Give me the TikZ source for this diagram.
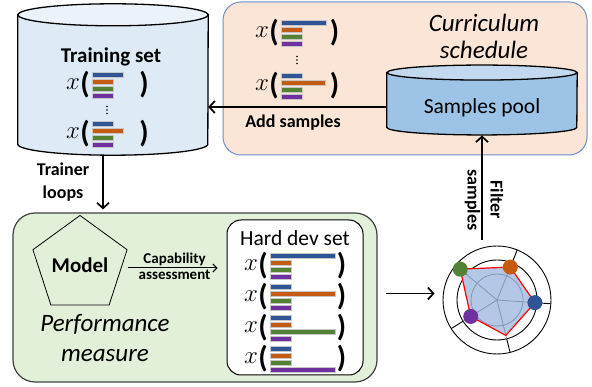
\documentclass[tikz,border=0pt]{standalone}
\usepackage{fontspec}
\setmainfont{Carlito}
\usetikzlibrary{shapes.geometric,arrows.meta,positioning}

\definecolor{trainfill}{HTML}{DEEBF7}
\definecolor{traintop}{HTML}{EBF2FA}
\definecolor{poolfill}{HTML}{9DC3E6}
\definecolor{pooltop}{HTML}{C3D9EF}
\definecolor{currfill}{HTML}{FBE5D6}
\definecolor{curredge}{HTML}{6F8FC8}
\definecolor{perffill}{HTML}{E2F0D9}
\definecolor{bar1}{HTML}{2F5597}
\definecolor{bar2}{HTML}{C55A11}
\definecolor{bar3}{HTML}{548235}
\definecolor{bar4}{HTML}{7030A0}
\definecolor{radarfill}{HTML}{B4C7E7}
\definecolor{spoke}{HTML}{8497B0}

\tikzset{
  arr/.style={line width=1.7pt, -{Straight Barb[length=5.5pt,width=12pt]}},
  smallarr/.style={line width=1pt, -{Straight Barb[length=4pt,width=8pt]}},
  currbox/.style={draw=curredge, line width=1pt, fill=currfill, rounded corners=18pt, inner sep=0pt},
  perfbox/.style={draw=black!75, line width=1.2pt, fill=perffill, rounded corners=22pt, inner sep=0pt},
  hardbox/.style={draw, line width=1pt, fill=white, rounded corners=14pt, inner sep=0pt},
  bar/.style={draw=white!55!gray, line width=0.5pt},
  xsym/.style={inner sep=0pt, font=\fontsize{33}{33}\selectfont},
  paren/.style={inner sep=0pt, font=\fontsize{30}{30}\selectfont\bfseries},
  lbl/.style={font=\fontsize{18}{23}\selectfont\bfseries, align=center, inner sep=0pt},
  title/.style={font=\fontsize{21.5}{24}\selectfont, inner sep=0pt},
  stage/.style={font=\fontsize{25}{30}\selectfont\itshape, align=center, inner sep=0pt}
}

% one sample: x( four bars )
\newcommand{\samplerow}[4]{%
  \begin{scope}[shift={#2}]
    \node[xsym] (#1-x) at (-19,-1) {$x$};
    \node[paren] (#1-l) at (-7,0) {(};
    \foreach \len [count=\i] in {#3} {
      \pgfmathsetmacro\yy{(\i-2.5)*7}
      \path[bar, fill=bar\i] (0,\yy-2.7) rectangle (\len,\yy+2.7);
    }
    \node[paren] (#1-r) at (#4,0) {)};
  \end{scope}
}

\begin{document}
\begin{tikzpicture}[x=1pt,y=-1pt]
\useasboundingbox (0,0) rectangle (592,387);

\node[currbox, minimum width=364pt, minimum height=153pt] (curr) at (405,78.5) {};
\node[perfbox, minimum width=364pt, minimum height=169pt] (perf) at (195,297.5) {};
\node[hardbox, minimum width=136pt, minimum height=155pt] (hard) at (295,297.5) {};

% training set cylinder
\node[inner sep=0pt, minimum width=190pt, minimum height=129pt] (train) at (113,79.5) {};
\path[draw, line width=1.3pt, fill=trainfill] (train.north west) -- (train.south west)
  arc[start angle=180, end angle=360, x radius=95pt, y radius=11pt] -- (train.north east) -- cycle;
\draw[line width=1.3pt, fill=traintop] (train.north) ellipse[x radius=95pt, y radius=11pt];
\node[title, font=\fontsize{21}{24}\selectfont\bfseries] (trainlabel) at (111,57) {Training set};
\samplerow{tr1}{(92,85)}{31,21,21,21}{52}
\samplerow{tr2}{(92,134)}{21,31,21,21}{52}
\coordinate (trdots) at (107,110);
\foreach \d in {-3.5,0,3.5} \fill ([yshift=\d pt]trdots) circle[radius=0.9pt];

% samples pool cylinder
\node[inner sep=0pt, minimum width=190pt, minimum height=54.5pt] (pool) at (482,100) {};
\path[draw, line width=1.3pt, fill=poolfill] (pool.north west) -- (pool.south west)
  arc[start angle=180, end angle=360, x radius=95pt, y radius=7.5pt] -- (pool.north east) -- cycle;
\draw[line width=1.3pt, fill=pooltop] (pool.north) ellipse[x radius=95pt, y radius=7.5pt];
\node[title] (poollabel) at (482,108) {Samples pool};

\node[stage, font=\fontsize{25}{27}\selectfont\itshape] (currlabel) at (484,36) {Curriculum\\schedule};
\samplerow{cu1}{(281,33)}{45,21,21,21}{53.5}
\samplerow{cu2}{(281,86)}{21,44,21,21}{53.5}
\coordinate (cudots) at (297,60);
\foreach \d in {-3.5,0,3.5} \fill ([yshift=\d pt]cudots) circle[radius=0.9pt];

% performance measure
\node[regular polygon, regular polygon sides=5, draw, line width=0.8pt, minimum size=94pt,
  inner sep=0pt, font=\fontsize{21}{22}\selectfont\bfseries] (model) at (80,265) {Model};
\node[stage] (perflabel) at (105,338) {Performance\\measure};
\node[title] (hardlabel) at (295,238) {Hard dev set};
\samplerow{hd1}{(270,266)}{65,21,21,21}{71.5}
\samplerow{hd2}{(270,297)}{21,65,21,21}{71.5}
\samplerow{hd3}{(270,328)}{21,21,65,21}{71.5}
\samplerow{hd4}{(270,359)}{21,21,21,65}{71.5}

% radar chart
\node[circle, draw, line width=0.9pt, minimum size=108pt, inner sep=0pt] (radar) at (497,300) {};
\begin{scope}[shift={(radar.center)}, y=1pt]
  \draw[line width=0.9pt] (0,0) circle[radius=40pt];
  \fill[radarfill] (68:35.5) -- (140:48) -- (212:31) -- (284:36.5) -- (356:38) -- cycle;
  \draw[spoke, line width=0.8pt] (0,0) circle[radius=26pt];
  \foreach \a in {68,140,212,284,356} {
    \draw[spoke, line width=0.8pt] (0,0) -- (\a:40);
    \draw[line width=0.9pt] (\a:40) -- (\a:54);
  }
  \draw[red, line width=1.2pt, line join=round] (68:35.5) -- (140:48) -- (212:31) -- (284:36.5) -- (356:38) -- cycle;
  \foreach \a/\r/\c in {68/35.5/bar2, 140/48/bar3, 212/31/bar4, 356/38/bar1}
    \fill[\c] (\a:\r) circle[radius=7.5pt];
\end{scope}

% connectors
\draw[arr] ([yshift=-7pt]pool.west) -- ([yshift=-7pt]pool.west -| train.east);
\node[lbl] (addlabel) at (293,123) {Add samples};
\draw[arr] ([xshift=-10pt,yshift=-11pt]train.south) -- ([xshift=-10pt,yshift=3pt]train.south |- perf.north);
\node[lbl] (trainerlabel) at (63,182) {Trainer\\loops};
\draw[smallarr, shorten <=5pt, shorten >=9pt] ([yshift=-3pt]model.east) -- ([yshift=-3pt]model.east -| hard.west)
  node[midway, above=1.5pt, font=\fontsize{15}{16}\selectfont\bfseries, inner sep=0pt] (caplabel) {Capability}
  node[midway, below=1.5pt, font=\fontsize{15}{16}\selectfont\bfseries, inner sep=0pt] (asslabel) {assessment};
\draw[arr, shorten <=8pt, shorten >=8pt] ([yshift=4pt]perf.east) -- ([yshift=4pt]perf.east -| radar.west);
\draw[arr] ([yshift=6pt]radar.north -| pool.south) -- ([yshift=-8pt]pool.south);
\node[lbl, rotate=-90] (filterlabel) at (484,200) {Filter\\samples};
\end{tikzpicture}
\end{document}
